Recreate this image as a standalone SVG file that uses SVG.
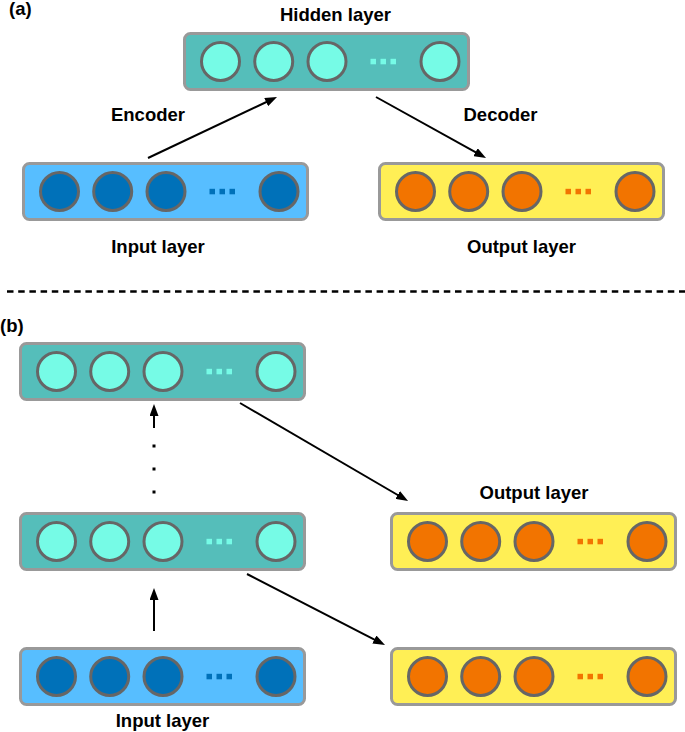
<svg xmlns="http://www.w3.org/2000/svg" xmlns:xlink="http://www.w3.org/1999/xlink" width="685" height="732" viewBox="0 0 685 732">
<style>
.hid{fill:#55BEBA;color:#76FBE6}
.inp{fill:#57BEFF;color:#0071B9}
.out{fill:#FFEF55;color:#F27400}
.lbl{font-family:"Liberation Sans",Arial,Helvetica,sans-serif;font-weight:bold;font-size:18.5px;fill:#000}
.mid{text-anchor:middle}
.conn{stroke:#000;stroke-width:2;fill:none}
</style>
<defs>
<marker id="ah" markerUnits="userSpaceOnUse" markerWidth="12" markerHeight="9" refX="5" refY="4.5" orient="auto">
<path d="M0,0 L12,4.5 L0,9 Z" fill="#000"/>
</marker>
<g id="layer">
<rect x="1.5" y="1.5" width="284" height="56" rx="6" stroke="#999999" stroke-width="3"/>
<g fill="currentColor" stroke="#666666" stroke-width="3">
<circle cx="37.5" cy="29.5" r="19"/>
<circle cx="90.7" cy="29.5" r="19"/>
<circle cx="144" cy="29.5" r="19"/>
<circle cx="257" cy="29.5" r="19"/>
</g>
<g fill="currentColor">
<rect x="187.5" y="26.8" width="5.5" height="5.5"/>
<rect x="197.5" y="26.8" width="5.5" height="5.5"/>
<rect x="207.5" y="26.8" width="5.5" height="5.5"/>
</g>
</g>
</defs>
<rect width="685" height="732" fill="#fff"/>

<text class="lbl" x="9" y="15">(a)</text>
<text class="lbl" x="0" y="332">(b)</text>

<g id="a_hidden" class="hid"><use xlink:href="#layer" x="183" y="32"/><text class="lbl mid" x="335.5" y="21">Hidden layer</text></g>
<g id="a_input" class="inp"><use xlink:href="#layer" x="22" y="162"/><text class="lbl mid" x="158" y="252.5">Input layer</text></g>
<g id="a_output" class="out"><use xlink:href="#layer" x="378" y="162"/><text class="lbl mid" x="521.5" y="252.5">Output layer</text></g>

<g id="b_hidden_top" class="hid"><use xlink:href="#layer" x="19" y="342"/></g>
<g id="b_hidden_1" class="hid"><use xlink:href="#layer" x="19" y="512"/></g>
<g id="b_output_top" class="out"><use xlink:href="#layer" x="390" y="512"/><text class="lbl mid" x="534" y="499">Output layer</text></g>
<g id="b_input" class="inp"><use xlink:href="#layer" x="19" y="647"/><text class="lbl mid" x="162.5" y="727">Input layer</text></g>
<g id="b_output_1" class="out"><use xlink:href="#layer" x="390" y="647"/></g>

<g id="connectors">
<line class="conn" x1="148" y1="158" x2="270.7" y2="100" marker-end="url(#ah)"/>
<text class="lbl mid" x="148" y="121">Encoder</text>
<line class="conn" x1="376" y1="97" x2="479.9" y2="154.6" marker-end="url(#ah)"/>
<text class="lbl mid" x="500.5" y="120.5">Decoder</text>
<line x1="7" y1="291.5" x2="685" y2="291.5" stroke="#000" stroke-width="2.5" stroke-dasharray="6.5 4.7"/>
<line class="conn" x1="154" y1="428" x2="154" y2="411" marker-end="url(#ah)"/>
<rect x="152.5" y="444.5" width="3" height="3" fill="#000"/>
<rect x="152.5" y="467.5" width="3" height="3" fill="#000"/>
<rect x="152.5" y="490.5" width="3" height="3" fill="#000"/>
<line class="conn" x1="240" y1="403" x2="402" y2="497.5" marker-end="url(#ah)"/>
<line class="conn" x1="154" y1="631" x2="154" y2="595" marker-end="url(#ah)"/>
<line class="conn" x1="247" y1="574" x2="378.8" y2="641.8" marker-end="url(#ah)"/>
</g>
</svg>
